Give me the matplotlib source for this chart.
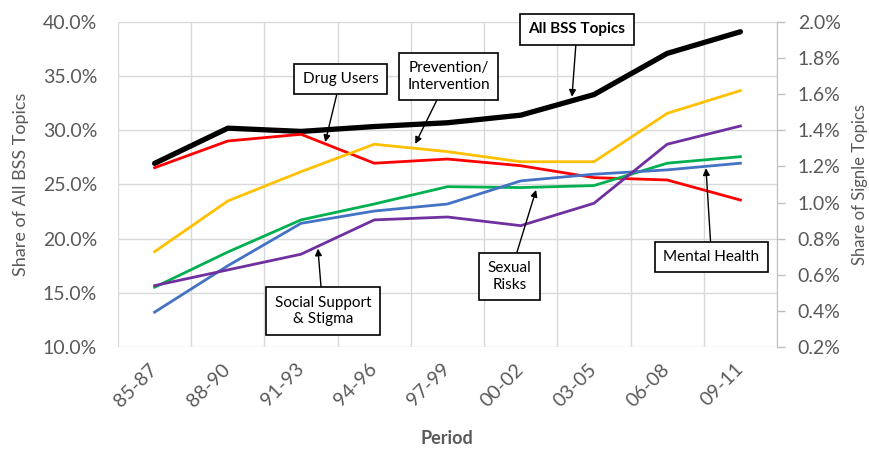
import numpy as np
import matplotlib.pyplot as plt
import matplotlib as mpl

mpl.rcParams['font.family'] = ['Lato', 'DejaVu Sans']

periods = ['85-87', '88-90', '91-93', '94-96', '97-99', '00-02', '03-05', '06-08', '09-11']

# left axis: share of all BSS topics (%)
all_bss = [26.95, 30.2, 29.9, 30.35, 30.7, 31.4, 33.3, 37.1, 39.1]

# right axis: share of single topics (%)
drug_users = [1.193, 1.341, 1.378, 1.218, 1.241, 1.204, 1.138, 1.125, 1.014]
prevention = [0.728, 1.009, 1.171, 1.323, 1.282, 1.226, 1.226, 1.494, 1.620]
sexual_risks = [0.531, 0.726, 0.904, 0.992, 1.088, 1.083, 1.094, 1.218, 1.254]
mental_health = [0.393, 0.650, 0.885, 0.953, 0.992, 1.120, 1.157, 1.181, 1.218]
social_support = [0.540, 0.627, 0.714, 0.904, 0.920, 0.872, 0.996, 1.323, 1.424]

gray = '#595959'
x = np.arange(len(periods))

fig = plt.figure(figsize=(8.7, 4.5), dpi=100)
ax = fig.add_axes([118/870, 1-347/450, (777-118)/870, (347-22)/450])
ax2 = ax.twinx()

ax.plot(x, all_bss, color='black', lw=3.8, solid_capstyle='round', zorder=3)
ax2.plot(x, drug_users, color='#FF0000', lw=2)
ax2.plot(x, prevention, color='#FFC000', lw=2)
ax2.plot(x, sexual_risks, color='#00B050', lw=2)
ax2.plot(x, mental_health, color='#4472C4', lw=2)
ax2.plot(x, social_support, color='#7030A0', lw=2)

ax.set_xlim(-0.5, len(periods)-0.5)
ax.set_ylim(10, 40)
ax2.set_ylim(0.2, 2.0)
ax.set_yticks(np.arange(10, 41, 5))
ax.set_yticklabels(['%.1f%%' % v for v in np.arange(10, 41, 5)])
ax2.set_yticks(np.arange(0.2, 2.01, 0.2))
ax2.set_yticklabels(['%.1f%%' % v for v in np.arange(0.2, 2.01, 0.2)])

ax.set_xticks(x)
ax.set_xticklabels(periods, rotation=45, ha='right', va='center', rotation_mode='anchor')
ax.set_xticks(np.arange(-0.5, len(periods), 1), minor=True)
ax.tick_params(axis='x', which='both', length=0, pad=14, labelsize=14, labelcolor=gray)
ax.tick_params(axis='y', length=0, pad=15, labelsize=14, labelcolor=gray)
ax2.tick_params(axis='y', length=6, width=1, color='#BFBFBF', pad=9, labelsize=14, labelcolor=gray)

ax.grid(axis='y', color='#D9D9D9', lw=1)
ax.grid(axis='x', which='minor', color='#D9D9D9', lw=1)
ax.set_axisbelow(True)
for sp in ['top', 'left', 'bottom', 'right']:
    ax.spines[sp].set_visible(False)
    ax2.spines[sp].set_visible(False)
ax2.spines['right'].set_visible(True)
ax2.spines['right'].set_color('#BFBFBF')

ax.set_ylabel('Share of All BSS Topics', fontsize=13, color=gray, labelpad=10)
ax2.set_ylabel('Share of Signle Topics', fontsize=12, color=gray, labelpad=8)
fig.text(447/870, 1-438/450, 'Period', fontsize=13, fontweight='bold', color=gray,
         ha='center', va='center')

def px(cx, cy):
    return ((cx-118)/659, (347-cy)/325)

box = dict(boxstyle='square,pad=0.55', fc='white', ec='black', lw=1.2)
arrow = dict(arrowstyle='-|>', color='black', lw=1, mutation_scale=10, shrinkA=0, shrinkB=0)

notes = [
    ('Drug Users', (2.33, 1.335), ax2.transData, (340.5, 79), 'normal'),
    ('Prevention/\nIntervention', (3.56, 1.325), ax2.transData, (448.5, 76.5), 'normal'),
    ('All BSS Topics', (5.70, 33.1), ax.transData, (577, 29.5), 'bold'),
    ('Social Support\n& Stigma', (2.23, 0.745), ax2.transData, (323, 311), 'normal'),
    ('Sexual\nRisks', (5.21, 1.07), ax2.transData, (509.5, 276.5), 'normal'),
    ('Mental Health', (7.53, 1.19), ax2.transData, (711.5, 257), 'normal'),
]
for txt, tip, tr, pos, wt in notes:
    ax2.annotate(txt, xy=tip, xycoords=tr, xytext=px(*pos), textcoords='axes fraction',
                 ha='center', va='center', fontsize=11, fontweight=wt, bbox=box,
                 arrowprops=arrow, zorder=10, annotation_clip=False)

fig.savefig('out.png', dpi=100)
